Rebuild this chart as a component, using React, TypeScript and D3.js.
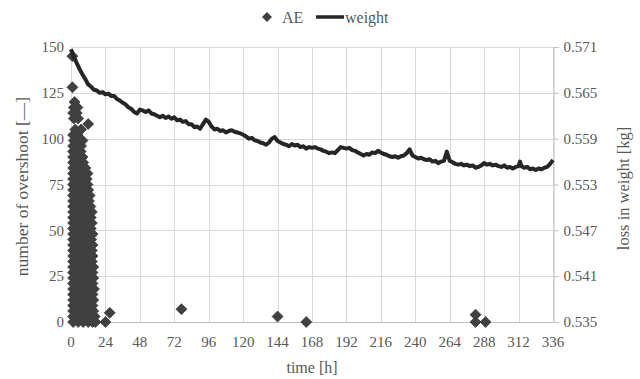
import { useEffect, useRef } from 'react';
import * as d3 from 'd3';

const hourTicks = [0, 24, 48, 72, 96, 120, 144, 168, 192, 216, 240, 264, 288, 312, 336];
const countTicks = [0, 25, 50, 75, 100, 125, 150];
const weightTicks = [0.535, 0.541, 0.547, 0.553, 0.559, 0.565, 0.571];

// AE hits in the first hours, read row by row off the dense cluster
const aeRowCounts = [
  0, 3, 6, 9, 12, 15, 18, 21, 24, 27, 30, 33, 36, 39, 42, 45, 48, 51, 54, 57, 60, 63, 66, 69,
  72, 75, 78, 81, 84, 87, 90, 93, 96, 99, 102, 105, 108, 111, 114, 117, 120, 128, 145,
];
const aeRowHours = [
  [1.5, 5, 8.5, 12, 15, 17], [1.5, 3.25, 6.75, 10.25, 13.75, 16.5], [1.5, 5, 8.5, 12, 15.5],
  [1.5, 3.25, 6.75, 10.25, 13.75, 15], [1.5, 5, 8.5, 12, 15.5], [1.5, 3.25, 6.75, 10.25, 13.75, 15],
  [1.5, 5, 8.5, 12, 16], [1.5, 3.25, 6.75, 10.25, 13.75, 15], [1.5, 5, 8.5, 12, 15.5],
  [1.5, 3.25, 6.75, 10.25, 13.75, 15], [1.5, 5, 8.5, 12, 15.5], [1.5, 3.25, 6.75, 10.25, 13.75, 14.5],
  [1.5, 5, 8.5, 12, 15], [1.5, 3.25, 6.75, 10.25, 13.75, 14.5], [1.5, 5, 8.5, 12, 15],
  [1.5, 3.25, 6.75, 10.25, 13.75, 14], [1.5, 5, 8.5, 12, 15], [1.5, 3.25, 6.75, 10.25, 13.75],
  [1.5, 5, 8.5, 12, 14.5], [1.5, 3.25, 6.75, 10.25, 13.75], [1.5, 5, 8.5, 12, 14.5],
  [1.5, 3.25, 6.75, 10.25, 13.5], [1.5, 5, 8.5, 12.5], [1.5, 3.25, 6.75, 10.25, 13],
  [1.5, 5, 8.5, 12], [1.5, 3.25, 6.75, 10.25, 11.5], [1.5, 5, 8.5, 11],
  [1.5, 3.25, 6.75, 10.25, 11.5], [1.5, 5, 8.5, 10], [1.5, 3.25, 6.75, 8.5], [1.5, 5, 8],
  [1.5, 3.25, 6.75], [1.5, 5, 7], [2, 5.5, 8], [1.5, 4.5], [3, 7], [12], [2, 5], [1.5, 4],
  [2, 4.5], [2.5], [1], [1],
];
const aeOutliers: [number, number][] = [
  [24, 0], [27, 5], [77, 7], [144, 3], [164, 0], [282, 4], [282, 0], [289, 0],
];

// weight loss curve [h, kg]
const weightSeries: [number, number][] = [
  [0, 0.5707], [2, 0.5697], [4, 0.5689], [6, 0.5681], [8, 0.5674], [10, 0.5668], [12, 0.5661],
  [14, 0.5658], [16, 0.5654], [18, 0.5653], [20, 0.565], [22, 0.5651], [24, 0.5648], [26, 0.5649],
  [28, 0.5646], [30, 0.5646], [32, 0.5642], [34, 0.564], [36, 0.5637], [38, 0.5635], [40, 0.5631],
  [42, 0.5629], [44, 0.5625], [46, 0.5623], [48, 0.5628], [50, 0.5627], [52, 0.5625], [54, 0.5627],
  [56, 0.5623], [58, 0.5622], [60, 0.562], [62, 0.5618], [64, 0.562], [66, 0.5617], [68, 0.5619],
  [70, 0.5616], [72, 0.5618], [74, 0.5614], [76, 0.5615], [78, 0.5612], [80, 0.5613], [82, 0.5609],
  [84, 0.5609], [86, 0.5605], [88, 0.5606], [90, 0.5603], [92, 0.5609], [94, 0.5615], [96, 0.5612],
  [98, 0.5606], [100, 0.5602], [102, 0.5603], [104, 0.56], [106, 0.5601], [108, 0.5598],
  [110, 0.56], [112, 0.5601], [114, 0.5599], [116, 0.5598], [118, 0.5597], [120, 0.5595],
  [122, 0.5593], [124, 0.559], [126, 0.5591], [128, 0.5588], [130, 0.5587], [132, 0.5585],
  [134, 0.5584], [136, 0.5582], [138, 0.5585], [140, 0.559], [142, 0.5592], [144, 0.5587],
  [146, 0.5585], [148, 0.5583], [150, 0.5582], [152, 0.558], [154, 0.5583], [156, 0.5581],
  [158, 0.5582], [160, 0.5579], [162, 0.558], [164, 0.5577], [166, 0.5579], [168, 0.5578],
  [170, 0.5579], [172, 0.5577], [174, 0.5576], [176, 0.5574], [178, 0.5573], [180, 0.5571],
  [182, 0.5572], [184, 0.5571], [186, 0.5575], [188, 0.5579], [190, 0.5578], [192, 0.5577],
  [194, 0.5578], [196, 0.5575], [198, 0.5574], [200, 0.5572], [202, 0.557], [204, 0.5568],
  [206, 0.557], [208, 0.5569], [210, 0.5572], [212, 0.5571], [214, 0.5574], [216, 0.5572],
  [218, 0.557], [220, 0.5569], [222, 0.5567], [224, 0.5566], [226, 0.5567], [228, 0.5565],
  [230, 0.5567], [232, 0.5568], [234, 0.5571], [236, 0.5576], [238, 0.5568], [240, 0.5566],
  [242, 0.5564], [244, 0.5565], [246, 0.5563], [248, 0.5562], [250, 0.5563], [252, 0.556],
  [254, 0.5561], [256, 0.5558], [258, 0.556], [260, 0.5561], [262, 0.5573], [263, 0.5567],
  [264, 0.5561], [266, 0.5559], [268, 0.5557], [270, 0.5556], [272, 0.5557], [274, 0.5555],
  [276, 0.5556], [278, 0.5554], [280, 0.5555], [282, 0.5552], [284, 0.5553], [286, 0.5555],
  [288, 0.5558], [290, 0.5556], [292, 0.5557], [294, 0.5555], [296, 0.5556], [298, 0.5554],
  [300, 0.5553], [302, 0.5555], [304, 0.5552], [306, 0.5553], [308, 0.5551], [310, 0.5553],
  [312, 0.5554], [313, 0.556], [314, 0.5554], [316, 0.5552], [318, 0.5553], [320, 0.555],
  [322, 0.5551], [324, 0.5549], [326, 0.5551], [328, 0.555], [330, 0.5552], [332, 0.5553],
  [334, 0.5557], [336, 0.5562],
];

const FONT = '"Liberation Serif", "Times New Roman", serif';
const TEXT = '#595959';
const DIAMOND = 'M0,-5.5L5.5,0L0,5.5L-5.5,0Z';

export default function App() {
  const ref = useRef<SVGSVGElement>(null);
  const width = 640;
  const height = 379;

  useEffect(() => {
    if (!ref.current) return;
    const svg = d3.select(ref.current);
    svg.selectAll('*').remove();

    const margin = { top: 47, right: 87, bottom: 57, left: 71 };
    const x = d3.scaleLinear().domain([0, 336]).range([margin.left, width - margin.right]);
    const y = d3.scaleLinear().domain([0, 150]).range([height - margin.bottom, margin.top]);
    const y2 = d3.scaleLinear().domain([0.535, 0.571]).range([height - margin.bottom, margin.top]);

    // grid
    const grid = svg.append('g').attr('stroke', '#d9d9d9').attr('stroke-width', 1);
    grid.selectAll('line.v')
      .data(hourTicks)
      .enter()
      .append('line')
      .attr('x1', (d) => Math.round(x(d)) + 0.5)
      .attr('x2', (d) => Math.round(x(d)) + 0.5)
      .attr('y1', y(150))
      .attr('y2', y(0));
    grid.selectAll('line.h')
      .data(countTicks)
      .enter()
      .append('line')
      .attr('x1', x(0))
      .attr('x2', x(336))
      .attr('y1', (d) => Math.round(y(d)) + 0.5)
      .attr('y2', (d) => Math.round(y(d)) + 0.5);

    // bottom axis line
    svg.append('line')
      .attr('x1', x(0)).attr('x2', x(336))
      .attr('y1', Math.round(y(0)) + 0.5).attr('y2', Math.round(y(0)) + 0.5)
      .attr('stroke', '#bfbfbf');

    // right axis
    const right = svg.append('g')
      .attr('transform', `translate(${Math.round(x(336)) + 0.5},0)`)
      .call(d3.axisRight(y2).tickValues(weightTicks).tickSize(5).tickPadding(5).tickFormat(d3.format('.3f')));
    right.select('.domain').attr('stroke', '#bfbfbf');
    right.selectAll('.tick line').attr('stroke', '#bfbfbf');
    right.selectAll('text')
      .attr('fill', TEXT)
      .attr('font-family', FONT)
      .attr('font-size', 15);

    // left tick labels
    svg.append('g')
      .selectAll('text')
      .data(countTicks)
      .enter()
      .append('text')
      .attr('x', x(0) - 7)
      .attr('y', (d) => y(d))
      .attr('dy', '0.35em')
      .attr('text-anchor', 'end')
      .attr('fill', TEXT)
      .attr('font-family', FONT)
      .attr('font-size', 15)
      .text((d) => d);

    // bottom tick labels
    svg.append('g')
      .selectAll('text')
      .data(hourTicks)
      .enter()
      .append('text')
      .attr('x', (d) => x(d))
      .attr('y', y(0) + 25)
      .attr('text-anchor', 'middle')
      .attr('fill', TEXT)
      .attr('font-family', FONT)
      .attr('font-size', 15)
      .text((d) => d);

    // AE diamonds
    const aePoints: [number, number][] = [];
    aeRowCounts.forEach((c, i) => aeRowHours[i].forEach((h) => aePoints.push([h, c])));
    aeOutliers.forEach((p) => aePoints.push(p));
    svg.append('g')
      .selectAll('path')
      .data(aePoints)
      .enter()
      .append('path')
      .attr('d', DIAMOND)
      .attr('transform', (d) => `translate(${x(d[0])},${y(d[1])})`)
      .attr('fill', '#404040')
      .attr('stroke', '#404040')
      .attr('stroke-width', 0.8)
      .attr('stroke-linejoin', 'round');

    // weight line
    const line = d3.line<[number, number]>()
      .x((d) => x(d[0]))
      .y((d) => y2(d[1]));
    svg.append('path')
      .datum(weightSeries)
      .attr('d', line)
      .attr('fill', 'none')
      .attr('stroke', '#262626')
      .attr('stroke-width', 4)
      .attr('stroke-linejoin', 'round');

    // axis titles
    const midY = (y(0) + y(150)) / 2;
    svg.append('text')
      .attr('transform', `translate(22,${midY + 2}) rotate(-90)`)
      .attr('text-anchor', 'middle')
      .attr('dy', '0.35em')
      .attr('fill', TEXT)
      .attr('font-family', FONT)
      .attr('font-size', 17.5)
      .text('number of overshoot [—]');
    svg.append('text')
      .attr('transform', `translate(623,${midY + 4}) rotate(-90)`)
      .attr('text-anchor', 'middle')
      .attr('dy', '0.35em')
      .attr('fill', TEXT)
      .attr('font-family', FONT)
      .attr('font-size', 16.5)
      .text('loss in weight [kg]');
    svg.append('text')
      .attr('x', (x(0) + x(336)) / 2)
      .attr('y', 373)
      .attr('text-anchor', 'middle')
      .attr('fill', TEXT)
      .attr('font-family', FONT)
      .attr('font-size', 16)
      .text('time [h]');

    // legend
    const legend = svg.append('g');
    legend.append('path')
      .attr('d', 'M0,-5L5,0L0,5L-5,0Z')
      .attr('transform', 'translate(267,17)')
      .attr('fill', '#404040');
    legend.append('text')
      .attr('x', 282).attr('y', 17).attr('dy', '0.35em')
      .attr('fill', TEXT).attr('font-family', FONT).attr('font-size', 16)
      .text('AE');
    legend.append('line')
      .attr('x1', 316).attr('x2', 344).attr('y1', 17).attr('y2', 17)
      .attr('stroke', '#262626').attr('stroke-width', 3.5);
    legend.append('text')
      .attr('x', 345).attr('y', 17).attr('dy', '0.35em')
      .attr('fill', TEXT).attr('font-family', FONT).attr('font-size', 16)
      .text('weight');
  }, []);

  return (
    <svg
      ref={ref}
      width={width}
      height={height}
      style={{ position: 'absolute', left: 0, top: 0, background: '#fff' }}
    />
  );
}
